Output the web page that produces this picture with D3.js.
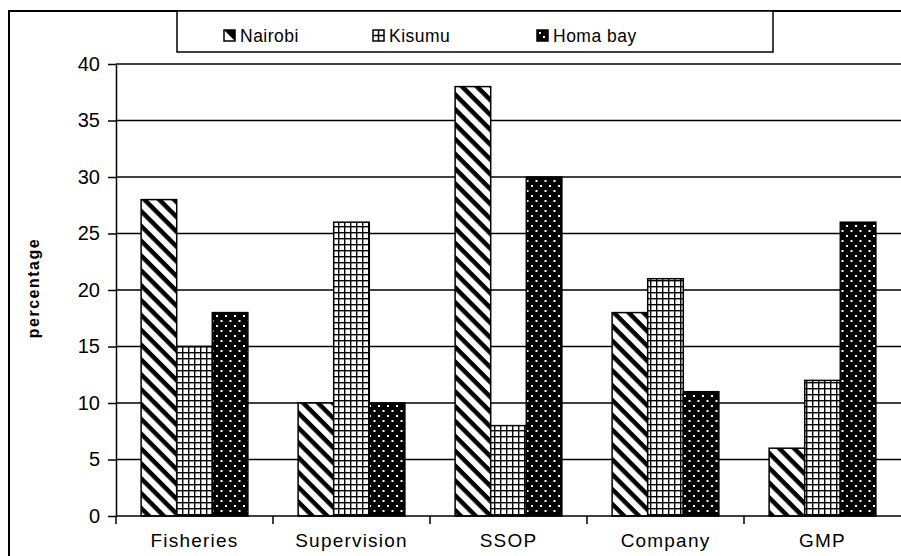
<!DOCTYPE html>
<html>
<head>
<meta charset="utf-8">
<script src="https://cdn.jsdelivr.net/npm/d3@7"></script>
<style>
  body { margin: 0; background: #fff; }
  svg text { font-family: "Liberation Sans", Arial, sans-serif; fill: #000; }
</style>
</head>
<body>
<div id="chart"></div>
<script>
var categories = ["Fisheries", "Supervision", "SSOP", "Company", "GMP"];
var seriesNames = ["Nairobi", "Kisumu", "Homa bay"];
var nairobi = [28, 10, 38, 18, 6];
var kisumu = [15, 26, 8, 21, 12];
var homaBay = [18, 10, 30, 11, 26];
var yTicks = [0, 5, 10, 15, 20, 25, 30, 35, 40];

var series = [nairobi, kisumu, homaBay];
var W = 901, H = 556;
var margin = {top: 64, right: 0, bottom: 40, left: 116},
    width = W - margin.left - margin.right,
    height = H - margin.top - margin.bottom;

var svg = d3.select("#chart").append("svg")
    .attr("width", W).attr("height", H);

var defs = svg.append("defs");

// diagonal stripes, top-left to bottom-right
var p1 = defs.append("pattern").attr("id", "pat0")
    .attr("patternUnits", "userSpaceOnUse")
    .attr("width", 10.5).attr("height", 10.5)
    .attr("patternTransform", "rotate(45)");
p1.append("rect").attr("width", 10.5).attr("height", 10.5).attr("fill", "#fff");
p1.append("rect").attr("width", 10.5).attr("height", 4.5).attr("fill", "#000");

// small grid
var p2 = defs.append("pattern").attr("id", "pat1")
    .attr("patternUnits", "userSpaceOnUse")
    .attr("width", 6).attr("height", 6);
p2.append("rect").attr("width", 6).attr("height", 6).attr("fill", "#fff");
p2.append("rect").attr("width", 6).attr("height", 1.4).attr("fill", "#000");
p2.append("rect").attr("width", 1.4).attr("height", 6).attr("fill", "#000");

// black with white dots
var p3 = defs.append("pattern").attr("id", "pat2")
    .attr("patternUnits", "userSpaceOnUse")
    .attr("width", 9).attr("height", 10);
p3.append("rect").attr("width", 9).attr("height", 10).attr("fill", "#000");
p3.append("rect").attr("x", 1).attr("y", 1).attr("width", 2).attr("height", 2).attr("fill", "#fff");
p3.append("rect").attr("x", 5.5).attr("y", 6).attr("width", 2).attr("height", 2).attr("fill", "#fff");

// outer frame (cropped on right and bottom)
svg.append("path")
  .attr("d", "M9," + H + "V11H" + W)
  .attr("fill", "none").attr("stroke", "#000").attr("stroke-width", 2);

var g = svg.append("g")
    .attr("transform", "translate(" + margin.left + "," + margin.top + ")");

var x0 = d3.scaleBand().domain(categories).range([0, width]).paddingInner(0.32).paddingOuter(0.16);
var x1 = d3.scaleBand().domain(seriesNames).range([0, x0.bandwidth()]);
var y = d3.scaleLinear().domain([0, 40]).range([height, 0]);

// gridlines
g.selectAll(".grid").data(yTicks.filter(function(d) { return d > 0; }))
  .enter().append("line")
    .attr("x1", 0).attr("x2", width)
    .attr("y1", function(d) { return y(d); })
    .attr("y2", function(d) { return y(d); })
    .attr("stroke", "#000").attr("stroke-width", 1.5);

// bars
seriesNames.forEach(function(name, si) {
  g.selectAll(".bar" + si).data(series[si]).enter().append("rect")
    .attr("x", function(d, i) { return x0(categories[i]) + x1(name); })
    .attr("y", function(d) { return y(d); })
    .attr("width", x1.bandwidth())
    .attr("height", function(d) { return height - y(d); })
    .attr("fill", "url(#pat" + si + ")")
    .attr("stroke", "#000").attr("stroke-width", 1.5);
});

// y axis
var yAxis = g.append("g")
  .call(d3.axisLeft(y).tickValues(yTicks).tickSize(8).tickSizeOuter(0).tickPadding(8));
yAxis.select(".domain").attr("stroke-width", 1.5);
yAxis.selectAll(".tick line").attr("stroke-width", 1.5);
yAxis.selectAll("text").style("font-size", "20px").style("font-family", "Liberation Sans, Arial, sans-serif");

// x axis with boundary ticks
var xAxis = g.append("g").attr("transform", "translate(0," + height + ")");
xAxis.append("line").attr("x1", 0).attr("x2", width).attr("stroke", "#000").attr("stroke-width", 1.5);
var bounds = d3.range(categories.length).map(function(i) {
  return x0(categories[i]) - x0.step() * x0.paddingInner() / 2;
});
xAxis.selectAll(".xt").data(bounds).enter().append("line")
  .attr("x1", function(d) { return d; }).attr("x2", function(d) { return d; })
  .attr("y1", 0).attr("y2", 8).attr("stroke", "#000").attr("stroke-width", 1.5);
xAxis.selectAll(".xl").data(categories).enter().append("text")
  .attr("x", function(d) { return x0(d) + x0.bandwidth() / 2; })
  .attr("y", 31)
  .attr("text-anchor", "middle")
  .style("font-size", "19px").style("letter-spacing", "1.2px")
  .text(function(d) { return d; });

// y label
svg.append("text")
  .attr("transform", "translate(39,288) rotate(-90)")
  .attr("text-anchor", "middle")
  .style("font-size", "16px").style("font-weight", "bold").style("letter-spacing", "1.5px")
  .text("percentage");

// legend
var lg = svg.append("g");
lg.append("rect").attr("x", 177).attr("y", 11).attr("width", 596).attr("height", 41)
  .attr("fill", "#fff").attr("stroke", "#000").attr("stroke-width", 1.5);
var legendX = [224, 373, 537];
var icon = 11;
seriesNames.forEach(function(name, i) {
  var lx = legendX[i], ly = 30;
  var ic = lg.append("g");
  if (i === 0) {
    ic.append("rect").attr("x", lx).attr("y", ly).attr("width", icon).attr("height", icon)
      .attr("fill", "#fff").attr("stroke", "#000").attr("stroke-width", 1.5);
    ic.append("path").attr("d", "M" + lx + "," + ly + "H" + (lx + icon) + "V" + (ly + icon) + "Z")
      .attr("fill", "#000");
  } else if (i === 1) {
    ic.append("rect").attr("x", lx).attr("y", ly).attr("width", icon).attr("height", icon)
      .attr("fill", "#fff").attr("stroke", "#000").attr("stroke-width", 1.5);
    ic.append("path").attr("d", "M" + (lx + icon / 2) + "," + ly + "V" + (ly + icon) +
        "M" + lx + "," + (ly + icon / 2) + "H" + (lx + icon))
      .attr("stroke", "#000").attr("stroke-width", 1.5);
  } else {
    ic.append("rect").attr("x", lx).attr("y", ly).attr("width", icon).attr("height", icon)
      .attr("fill", "#000").attr("stroke", "#000").attr("stroke-width", 1.5);
    [[3, 3], [7, 7]].forEach(function(p) {
      ic.append("rect").attr("x", lx + p[0] - 1).attr("y", ly + p[1] - 1)
        .attr("width", 2).attr("height", 2).attr("fill", "#fff");
    });
  }
  lg.append("text").attr("x", lx + 16).attr("y", 42)
    .style("font-size", "17.5px").style("letter-spacing", "0.5px").text(name);
});
</script>
</body>
</html>
